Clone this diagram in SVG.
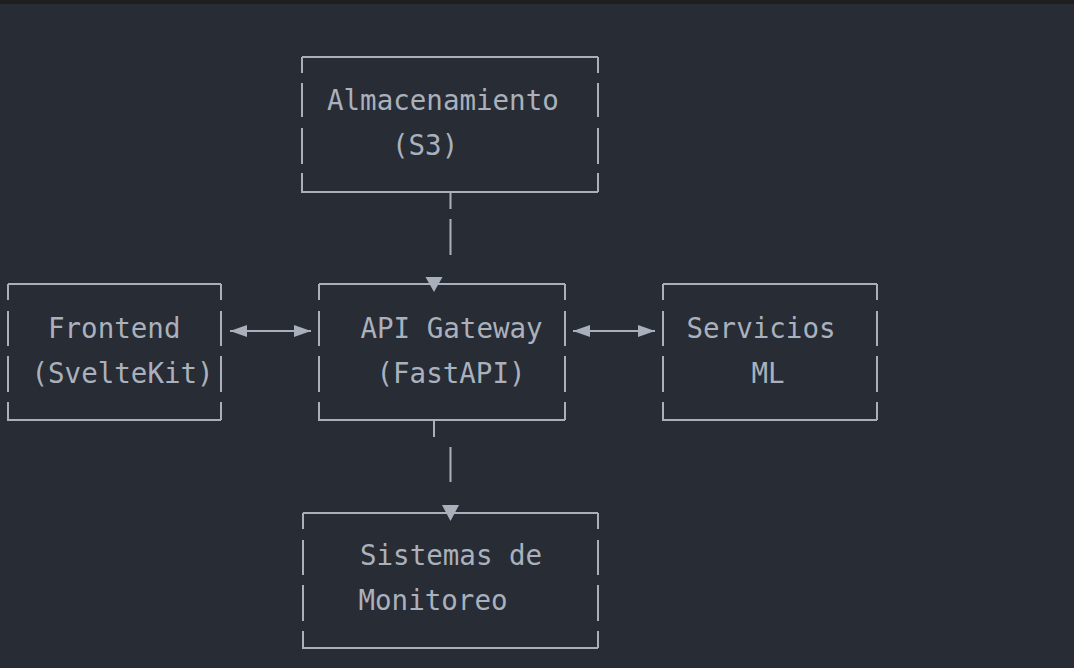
<svg xmlns="http://www.w3.org/2000/svg" width="1074" height="668" viewBox="0 0 1074 668">
  <style>
    .ln { stroke: #a9b0bb; stroke-width: 2; fill: none; }
    .tx { font-family: "DejaVu Sans Mono", "Liberation Mono", monospace; font-size: 27.5px; fill: #aab1bd; }
    .hd { fill: #a9b0bb; }
  </style>
  <defs>
    <marker id="ah" viewBox="0 0 17 12" refX="17" refY="6" markerWidth="17" markerHeight="12" markerUnits="userSpaceOnUse" orient="auto-start-reverse">
      <path d="M0,0 L17,6 L0,12 Z" class="hd"/>
    </marker>
  </defs>
  <rect width="1074" height="668" fill="#282c34"/>
  <rect width="1074" height="4" fill="#1e1e1c"/>

  <g id="node-almacenamiento">
    <path class="ln" d="M302,57 H598 M302,57 V73 M302,83 V117 M302,128 V164 M302,173 V192 H598 M598,57 V73 M598,83 V117 M598,128 V164 M598,173 V192"/>
    <text class="tx" x="327" y="110">Almacenamiento</text>
    <text class="tx" x="392" y="155">(S3)</text>
  </g>

  <g id="node-frontend">
    <path class="ln" d="M8,284 H221 M8,284 V300 M8,311 V346 M8,356 V392 M8,402 V420 H221 M221,284 V300 M221,311 V346 M221,356 V392 M221,402 V420"/>
    <text class="tx" x="48" y="338">Frontend</text>
    <text class="tx" x="31.5" y="383">(SvelteKit)</text>
  </g>

  <g id="node-api-gateway">
    <path class="ln" d="M319,284 H565 M319,284 V300 M319,311 V346 M319,356 V392 M319,402 V420 H565 M565,284 V300 M565,311 V346 M565,356 V392 M565,402 V420"/>
    <text class="tx" x="360.5" y="338">API Gateway</text>
    <text class="tx" x="376.5" y="383">(FastAPI)</text>
  </g>

  <g id="node-servicios-ml">
    <path class="ln" d="M663,284 H877 M663,284 V300 M663,311 V346 M663,356 V392 M663,402 V420 H877 M877,284 V300 M877,311 V346 M877,356 V392 M877,402 V420"/>
    <text class="tx" x="686.5" y="338">Servicios</text>
    <text class="tx" x="751.5" y="383">ML</text>
  </g>

  <g id="node-monitoreo">
    <path class="ln" d="M303,513 H598 M303,513 V529 M303,540 V575 M303,585 V621 M303,631 V648 H598 M598,513 V529 M598,540 V575 M598,585 V621 M598,631 V648"/>
    <text class="tx" x="360" y="565">Sistemas de</text>
    <text class="tx" x="358.5" y="610">Monitoreo</text>
  </g>

  <g id="connectors">
    <path class="ln" d="M450.5,192 V209 M450.5,219 V255"/>
    <path class="hd" d="M425.5,277 L442.5,277 L434,292 Z"/>
    <path class="ln" d="M434,420 V437 M450.5,447 V482"/>
    <path class="hd" d="M442,505 L459,505 L450.5,521 Z"/>
    <line class="ln" x1="230" y1="331" x2="311" y2="331" marker-start="url(#ah)" marker-end="url(#ah)"/>
    <line class="ln" x1="573" y1="331" x2="655" y2="331" marker-start="url(#ah)" marker-end="url(#ah)"/>
  </g>
</svg>
